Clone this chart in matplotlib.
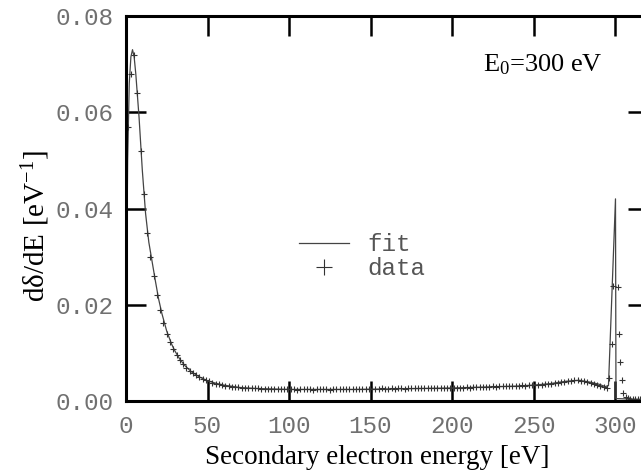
import numpy as np
import matplotlib
matplotlib.use("Agg")
from matplotlib import pyplot as plt
from matplotlib.lines import Line2D

# ---- data ----
# fitted spectrum (knots of the solid line)
fit_e = [0.0, 0.5, 1.0, 2.0, 3.0, 4.0, 5.0, 6.0, 8.0, 10.0, 12.0, 14.0, 16.0,
         18.0, 20.0, 22.0, 25.0, 28.0, 30.0, 33.0, 36.0, 40.0, 45.0, 50.0,
         55.0, 60.0, 70.0, 80.0, 90.0, 100.0, 120.0, 140.0, 160.0, 180.0,
         200.0, 220.0, 240.0, 250.0, 260.0, 270.0, 278.0, 285.0, 290.0,
         294.0, 296.0, 300.3, 300.6, 320.0]
fit_v = [0.0, 0.030, 0.050, 0.066, 0.0715, 0.073, 0.0715, 0.068, 0.059,
         0.048, 0.039, 0.033, 0.0290, 0.0250, 0.0212, 0.0182, 0.0145,
         0.0118, 0.0104, 0.0087, 0.0074, 0.0061, 0.0050, 0.0042, 0.0037,
         0.0033, 0.0028, 0.0026, 0.0025, 0.0024, 0.0024, 0.0024, 0.0025,
         0.0026, 0.0027, 0.0029, 0.0031, 0.0033, 0.0036, 0.0041, 0.0043,
         0.0039, 0.0035, 0.0030, 0.0032, 0.042, 0.0005, 0.0003]

# measured spectrum, 2 eV steps from 1 to 295 eV
data_e_main = np.arange(1, 296, 2)
data_v_main = [
    0.057, 0.068, 0.072, 0.064, 0.052, 0.043, 0.035, 0.030, 0.026, 0.022,
    0.019, 0.0163, 0.0140, 0.0122, 0.0108, 0.0096, 0.0086, 0.0077, 0.0069, 0.0063,
    0.0058, 0.0053, 0.0049, 0.0046, 0.0043, 0.0041, 0.0038, 0.0036, 0.0035, 0.0033,
    0.0032, 0.0031, 0.0030, 0.0029, 0.0029, 0.0028, 0.0027, 0.0027, 0.0026, 0.0026,
    0.0026, 0.0025, 0.0024, 0.0025, 0.0025, 0.0024, 0.0025, 0.0024, 0.0025, 0.0024,
    0.0024, 0.0025, 0.0023, 0.0024, 0.0024, 0.0025, 0.0024, 0.0023, 0.0024, 0.0025,
    0.0024, 0.0024, 0.0023, 0.0024, 0.0025, 0.0024, 0.0024, 0.0025, 0.0024, 0.0024,
    0.0025, 0.0024, 0.0024, 0.0025, 0.0025, 0.0025, 0.0024, 0.0025, 0.0026, 0.0025,
    0.0025, 0.0026, 0.0025, 0.0026, 0.0026, 0.0025, 0.0026, 0.0026, 0.0027, 0.0026,
    0.0026, 0.0027, 0.0026, 0.0027, 0.0027, 0.0026, 0.0027, 0.0027, 0.0028, 0.0027,
    0.0027, 0.0028, 0.0028, 0.0028, 0.0029, 0.0028, 0.0029, 0.0029, 0.0030, 0.0029,
    0.0030, 0.0030, 0.0031, 0.0030, 0.0031, 0.0031, 0.0032, 0.0031, 0.0032, 0.0032,
    0.0032, 0.0033, 0.0032, 0.0033, 0.0033,
    0.0033, 0.0033, 0.0034, 0.0035, 0.0035, 0.0036, 0.0037, 0.0038, 0.0039, 0.0040,
    0.0041, 0.0042, 0.0043, 0.0043, 0.0042, 0.0041, 0.0040, 0.0038, 0.0036, 0.0034,
    0.0032, 0.0030, 0.0028]

# elastic peak region and tail
data_e_peak = [296.5, 298.0, 299.0, 301.6, 302.6, 303.2, 304.2, 305.2,
               306.5, 308.0, 309.5, 311.0, 312.5, 314.0, 315.5, 317.0, 318.5]
data_v_peak = [0.0048, 0.0118, 0.0240, 0.0237, 0.0139, 0.0082, 0.0044, 0.0017,
               0.0008, 0.0006, 0.0005, 0.0005, 0.0004, 0.0004, 0.0004, 0.0003, 0.0003]

data_e = np.concatenate([data_e_main, data_e_peak])
data_v = np.concatenate([data_v_main, data_v_peak])

x_ticks = [0, 50, 100, 150, 200, 250, 300]
y_ticks = [0.00, 0.02, 0.04, 0.06, 0.08]

# ---- figure ----
mono = "Liberation Mono"
serif = "Liberation Serif"
plt.rcParams["mathtext.fontset"] = "custom"
plt.rcParams["mathtext.rm"] = serif
plt.rcParams["mathtext.it"] = serif + ":italic"

fig = plt.figure(figsize=(6.41, 4.71), dpi=100)
ax = fig.add_axes([126 / 641, 70 / 471, 521.6 / 641, 385 / 471])

ax.plot(fit_e, fit_v, color="#444444", linewidth=0.9, label="fit")
ax.plot(data_e, data_v, linestyle="none", marker="+", markersize=4,
        markeredgewidth=0.8, color="#333333", label="data")

ax.set_xlim(0, 320)
ax.set_ylim(0, 0.08)
ax.set_xticks(x_ticks)
ax.set_yticks(y_ticks)
ax.set_yticklabels(["%.2f" % v for v in y_ticks])

for s in ax.spines.values():
    s.set_linewidth(2.2)
ax.tick_params(which="major", direction="in", length=14.5, width=1.8,
               top=True, right=True, labelsize=17.5, labelcolor="#707070")
ax.tick_params(axis="x", pad=10)
ax.tick_params(axis="y", pad=9)
for lab in ax.get_xticklabels() + ax.get_yticklabels():
    lab.set_family(mono)

ax.set_xlabel("Secondary electron energy [eV]", family=serif, fontsize=19.5)
ax.xaxis.set_label_coords(0.481, -0.113)
ax.set_ylabel("d\u03b4/dE [eV$^{-1}$]", family=serif, fontsize=21)
ax.yaxis.set_label_coords(-0.141, 0.455)

ax.text(219, 0.0698, "E$_0$=300 eV", family=serif, fontsize=19,
        ha="left", va="center")

handles = [Line2D([], [], color="#444444", linewidth=0.9),
           Line2D([], [], linestyle="none", marker="+", markersize=12,
                  markeredgewidth=0.8, color="#333333")]
ax.legend(handles, ["fit", "data"], loc="center left",
          bbox_to_anchor=(0.29, 0.375), frameon=False,
          prop={"family": mono, "size": 17.5}, labelcolor="#555555",
          handlelength=2.05, handletextpad=0.74, labelspacing=0.05)

plt.savefig("out.png", dpi=100)
